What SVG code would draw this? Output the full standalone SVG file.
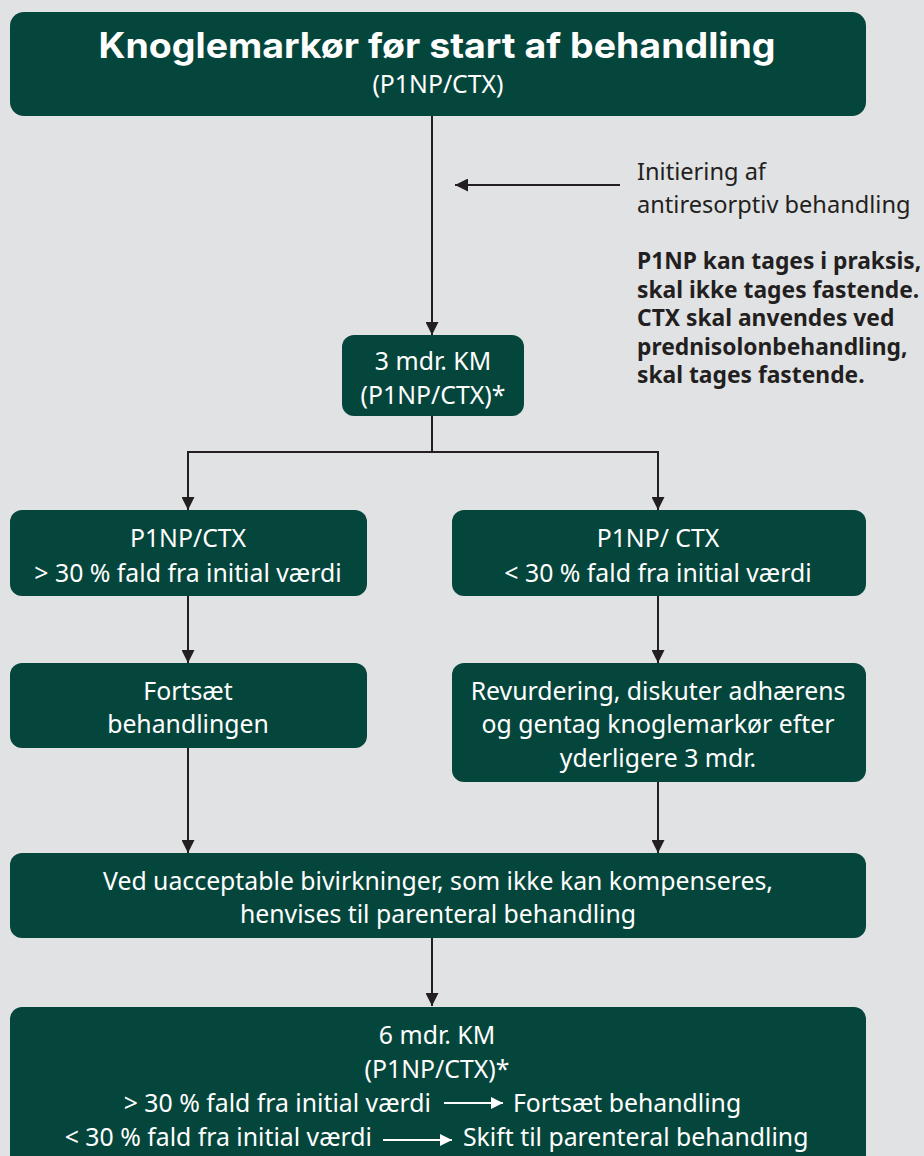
<svg xmlns="http://www.w3.org/2000/svg" width="924" height="1156" viewBox="0 0 924 1156">
<style>
.box{fill:#05463c}
.t{font-family:"Noto Sans","Liberation Sans",sans-serif;font-size:24.8px;fill:#ffffff;text-anchor:middle}
.d{font-family:"Noto Sans","Liberation Sans",sans-serif;font-size:23.6px;fill:#231f20}
.db{font-family:"Noto Sans","Liberation Sans",sans-serif;font-size:22.8px;fill:#231f20;font-weight:bold}
.ln{stroke:#231f20;stroke-width:2;fill:none}
</style>
<defs>
<marker id="ah" viewBox="0 0 12 12" refX="12" refY="6" markerWidth="13" markerHeight="13" markerUnits="userSpaceOnUse" orient="auto">
<path d="M0,0 L12,6 L0,12 z" fill="#231f20"/>
</marker>
<marker id="aw" viewBox="0 0 12 12" refX="12" refY="6" markerWidth="12" markerHeight="12" markerUnits="userSpaceOnUse" orient="auto">
<path d="M0,0 L12,6 L0,12 z" fill="#ffffff"/>
</marker>
</defs>
<rect width="924" height="1156" fill="#e1e2e4"/>
<g id="connectors">
<path class="ln" d="M432,116 V335" marker-end="url(#ah)"/>
<path class="ln" d="M620,185 H455" marker-end="url(#ah)"/>
<path class="ln" d="M432,416 V452 H188 V510" marker-end="url(#ah)"/>
<path class="ln" d="M432,452 H658 V510" marker-end="url(#ah)"/>
<path class="ln" d="M188,596 V663" marker-end="url(#ah)"/>
<path class="ln" d="M658,596 V663" marker-end="url(#ah)"/>
<path class="ln" d="M188,748 V853" marker-end="url(#ah)"/>
<path class="ln" d="M658,782 V853" marker-end="url(#ah)"/>
<path class="ln" d="M432,938 V1006" marker-end="url(#ah)"/>
</g>
<g id="n-top">
<rect class="box" x="10" y="12" width="856" height="104" rx="14"/>
<text x="437" y="58" textLength="677" lengthAdjust="spacingAndGlyphs" style="font-family:Inter,'Liberation Sans',sans-serif;font-size:35px;font-weight:bold;fill:#ffffff;text-anchor:middle">Knoglemarkør før start af behandling</text>
<text class="t" x="438" y="93">(P1NP/CTX)</text>
</g>
<g id="n-note">
<text class="d" x="637" y="180">Initiering af</text>
<text class="d" x="637" y="213">antiresorptiv behandling</text>
<text class="db" x="637" y="269">P1NP kan tages i praksis,</text>
<text class="db" x="637" y="298">skal ikke tages fastende.</text>
<text class="db" x="637" y="326">CTX skal anvendes ved</text>
<text class="db" x="637" y="355">prednisolonbehandling,</text>
<text class="db" x="637" y="383">skal tages fastende.</text>
</g>
<g id="n-3mdr">
<rect class="box" x="342" y="335" width="182" height="81" rx="12"/>
<text class="t" x="433" y="370">3 mdr. KM</text>
<text class="t" x="433" y="404">(P1NP/CTX)*</text>
</g>
<g id="n-left1">
<rect class="box" x="10" y="510" width="357" height="86" rx="12"/>
<text class="t" x="188" y="547">P1NP/CTX</text>
<text class="t" x="188" y="582">&gt; 30 % fald fra initial værdi</text>
</g>
<g id="n-right1">
<rect class="box" x="452" y="510" width="414" height="86" rx="12"/>
<text class="t" x="658" y="547">P1NP/ CTX</text>
<text class="t" x="658" y="582">&lt; 30 % fald fra initial værdi</text>
</g>
<g id="n-left2">
<rect class="box" x="10" y="663" width="357" height="85" rx="12"/>
<text class="t" x="188" y="700">Fortsæt</text>
<text class="t" x="188" y="733">behandlingen</text>
</g>
<g id="n-right2">
<rect class="box" x="452" y="663" width="414" height="119" rx="12"/>
<text class="t" x="658" y="700">Revurdering, diskuter adhærens</text>
<text class="t" x="658" y="733">og gentag knoglemarkør efter</text>
<text class="t" x="658" y="767">yderligere 3 mdr.</text>
</g>
<g id="n-side">
<rect class="box" x="10" y="853" width="856" height="85" rx="12"/>
<text class="t" x="438" y="890">Ved uacceptable bivirkninger, som ikke kan kompenseres,</text>
<text class="t" x="438" y="923">henvises til parenteral behandling</text>
</g>
<g id="n-6mdr">
<rect class="box" x="10" y="1007" width="856" height="165" rx="12"/>
<text class="t" x="437" y="1044">6 mdr. KM</text>
<text class="t" x="437" y="1078">(P1NP/CTX)*</text>
<text class="t" x="431" y="1112" style="text-anchor:end">&gt; 30 % fald fra initial værdi</text>
<path d="M444,1103 H503" stroke="#ffffff" stroke-width="2" marker-end="url(#aw)"/>
<text class="t" x="513" y="1112" style="text-anchor:start">Fortsæt behandling</text>
<text class="t" x="372" y="1146" style="text-anchor:end">&lt; 30 % fald fra initial værdi</text>
<path d="M383,1140 H452" stroke="#ffffff" stroke-width="2" marker-end="url(#aw)"/>
<text class="t" x="463" y="1146" style="text-anchor:start">Skift til parenteral behandling</text>
</g>
</svg>
